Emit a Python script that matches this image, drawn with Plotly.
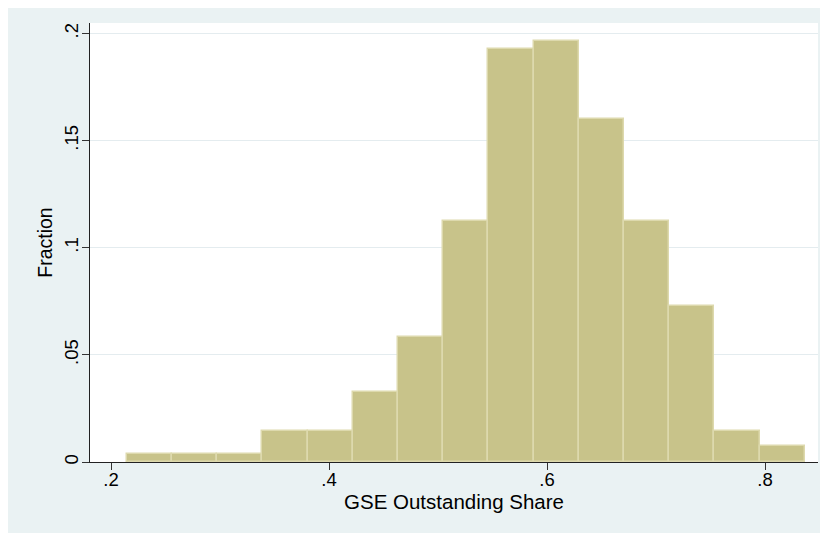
import plotly.graph_objects as go

# histogram bins (centres) and fractions
bin_centers = [0.2351, 0.2766, 0.3181, 0.3596, 0.4010, 0.4425, 0.4840, 0.5254,
               0.5669, 0.6084, 0.6499, 0.6913, 0.7328, 0.7743, 0.8157]
fractions = [0.0036, 0.0036, 0.0036, 0.0145, 0.0145, 0.0327, 0.0582, 0.1127,
             0.1927, 0.1964, 0.1600, 0.1127, 0.0727, 0.0145, 0.0073]

x_ticks = [0.2, 0.4, 0.6, 0.8]
x_tick_labels = [".2", ".4", ".6", ".8"]
y_ticks = [0, 0.05, 0.1, 0.15, 0.2]
y_tick_labels = ["0", ".05", ".1", ".15", ".2"]

bin_width = bin_centers[1] - bin_centers[0]

# the page puts the figure 8px in from the top-left corner
fig = go.Figure()

fig.add_trace(go.Bar(
    x=bin_centers,
    y=fractions,
    width=bin_width,
    marker=dict(color="#c8c38a", line=dict(color="#ddd9ad", width=1.5)),
    showlegend=False,
    hoverinfo="x+y"
))

font = "Liberation Sans, Arial, Helvetica, sans-serif"

fig.update_layout(
    width=828,
    height=533,
    margin=dict(l=82, r=18, t=15, b=79, autoexpand=False),
    paper_bgcolor="#eaf2f3",
    plot_bgcolor="#ffffff",
    font=dict(family=font, color="#000000", size=18),
    bargap=0,
    xaxis=dict(
        range=[0.1807, 0.8486],
        tickvals=x_ticks,
        ticktext=x_tick_labels,
        ticks="outside",
        ticklen=7,
        tickcolor="#333333",
        tickwidth=1.2,
        showline=True,
        linecolor="#222222",
        linewidth=1.3,
        showgrid=False,
        zeroline=False,
        automargin=False,
        tickfont=dict(size=18.5),
        ticklabelstandoff=-6,
        title=dict(text="GSE Outstanding Share", font=dict(size=20.5), standoff=0),
    ),
    yaxis=dict(
        range=[0, 0.2049],
        tickvals=y_ticks,
        ticktext=y_tick_labels,
        tickangle=-90,
        ticks="outside",
        ticklen=7,
        tickcolor="#333333",
        tickwidth=1.2,
        showline=True,
        linecolor="#222222",
        linewidth=1.3,
        showgrid=True,
        gridcolor="#e4ecef",
        gridwidth=1,
        zeroline=False,
        automargin=False,
        tickfont=dict(size=18.5),
        ticklabelstandoff=-4,
        title=dict(text="Fraction", font=dict(size=19.5), standoff=3),
    ),
)

fig.write_html("out.html")
